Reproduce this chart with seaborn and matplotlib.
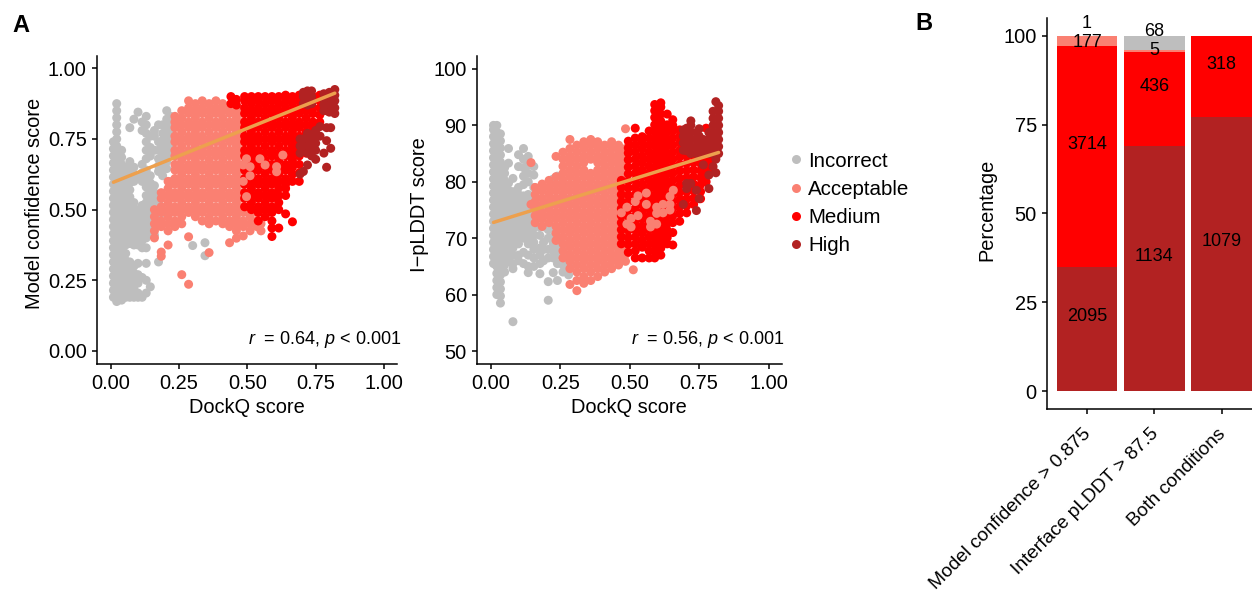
import pandas as pd
import matplotlib.pyplot as plt
import seaborn as sns
from matplotlib.transforms import ScaledTranslation

# DockQ column -> scores
incorrect_a = [
    (.01, [.19,.215,.24,.265,.29,.315,.34,.365,.39,.415,.44,.465,.49,.515,.54,.565,.59,.615,.64,.665,.69,.715,.74]),
    (.022, [.175,.20,.225,.25,.275,.30,.325,.35,.375,.40,.425,.45,.475,.50,.525,.55,.575,.60,.625,.65,.675,.70,.725,.75,.775,.80,.825,.85,.875]),
    (.04, [.18,.21,.235,.26,.285,.31,.335,.36,.385,.41,.435,.46,.485,.51,.535,.56,.585,.61,.635,.66,.685,.71]),
    (.055, [.19,.22,.245,.27,.295,.32,.345,.375,.40,.425,.45,.475,.50,.525,.55,.575,.60,.625,.65]),
    (.07, [.19,.215,.24,.265,.29,.315,.38,.405,.43,.47,.495,.52,.545,.57,.595,.62,.645,.67,.79]),
    (.085, [.19,.22,.25,.275,.30,.375,.40,.425,.45,.475,.50,.525,.60,.625,.65,.82]),
    (.10, [.19,.205,.24,.27,.31,.375,.40,.425,.45,.475,.50,.62,.845]),
    (.115, [.19,.26,.365,.39,.415,.44,.465,.49,.515,.60,.63,.66,.81,.78]),
    (.13, [.205,.25,.31,.365,.40,.425,.45,.475,.50,.525,.55,.58,.61,.64,.83,.80,.77,.74,.71,.68]),
    (.145, [.227,.42,.445,.47,.495,.52,.545,.57,.595,.62,.76,.72,.69]),
    (.16, [.41,.435,.46,.485,.51,.535,.56,.585,.78,.76,.71]),
    (.175, [.315,.45,.475,.50,.525,.55,.80,.74,.71,.68,.655,.635]),
    (.19, [.80,.77,.745,.72,.695,.67,.645,.62,.49]),
    (.205, [.85,.82,.795,.77,.745,.72,.695,.67,.645]),
    (.22, [.83,.80,.775,.75,.725,.70,.60]),
    (.30, [.373]),
    (.345, [.383,.337]),
]
acceptable_a = [
    (.16, [.40,.425,.45,.475,.50]),
    (.185, [.335,.35,.44,.46,.49,.51,.54,.56]),
    (.21, [.375,.425,.45,.475,.50,.525,.55,.575,.60]),
    (.235, [.44,.46,.49,.51,.54,.56,.59,.61,.64,.66,.69,.71,.74,.76,.79,.81,.83]),
    (.26, [.27,.45,.475,.50,.525,.55,.575,.60,.625,.65,.675,.70,.725,.75,.775,.80,.825,.85]),
    (.285, [.236,.404,.49,.51,.54,.56,.59,.61,.64,.66,.69,.71,.74,.76,.79,.81,.84,.86,.885]),
    (.31, [.475,.50,.525,.55,.575,.60,.625,.65,.675,.70,.725,.75,.775,.80,.825,.85,.875]),
    (.335, [.46,.49,.51,.54,.56,.59,.61,.64,.66,.69,.71,.74,.76,.79,.81,.84,.86,.885]),
    (.36, [.348,.45,.475,.50,.525,.55,.575,.60,.625,.65,.675,.70,.725,.75,.775,.80,.825,.85,.875]),
    (.385, [.46,.49,.51,.54,.56,.59,.61,.64,.66,.69,.71,.74,.76,.79,.81,.84,.86,.885]),
    (.41, [.45,.475,.50,.525,.55,.575,.60,.625,.65,.675,.70,.725,.75,.775,.80,.825,.85,.875]),
    (.435, [.383,.44,.46,.49,.51,.54,.56,.59,.61,.64,.66,.69,.71,.74,.76,.79,.81,.84,.86]),
    (.46, [.399,.425,.45,.475,.50,.525,.55,.575,.60,.625,.65,.675,.70,.725,.75,.775,.80,.825,.85]),
    (.485, [.407,.44,.46,.49,.51,.54,.56,.59,.61,.64,.66,.69,.71,.74,.76,.79,.81,.84,.855]),
    (.51, [.425,.45,.475,.50]),
    (.535, [.44,.46,.49]),
    (.55, [.425,.45]),
]
medium_a = [
    (.44, [.875,.90]),
    (.46, [.87,.89]),
    (.49, [.51,.54,.56,.59,.61,.64,.66,.69,.71,.74,.76,.79,.81,.84,.86,.885,.90]),
    (.515, [.50,.525,.55,.575,.60,.625,.65,.675,.70,.725,.75,.775,.80,.825,.85,.875,.90]),
    (.54, [.46,.49,.51,.54,.56,.59,.61,.64,.66,.69,.71,.74,.76,.79,.81,.84,.86,.885,.90]),
    (.565, [.475,.50,.525,.55,.575,.60,.625,.65,.675,.70,.725,.75,.775,.80,.825,.85,.875,.90]),
    (.59, [.405,.435,.46,.49,.51,.54,.56,.59,.61,.64,.66,.69,.71,.74,.76,.79,.81,.84,.86,.885,.90]),
    (.615, [.435,.50,.525,.55,.575,.60,.625,.65,.675,.70,.725,.75,.775,.80,.825,.85,.875,.90]),
    (.64, [.485,.55,.575,.59,.61,.64,.66,.69,.71,.74,.76,.79,.81,.84,.86,.885,.905]),
    (.665, [.457,.60,.625,.65,.675,.70,.725,.75,.775,.80,.825,.85,.875,.90]),
    (.69, [.60,.63,.66,.69,.71,.74,.76,.79,.81,.84,.86,.885,.905]),
    (.715, [.70,.725,.75,.775,.80,.825,.85,.875,.90]),
    (.74, [.76,.79,.81,.84,.86,.885,.90]),
    (.765, [.81,.835,.86,.885,.905]),
    (.79, [.85,.88,.905]),
]
high_a = [
    (.693, [.626,.70,.725,.75]),
    (.705, [.635,.725,.75,.875,.90,.915]),
    (.72, [.658,.70,.725,.75,.77,.87,.895,.92]),
    (.735, [.69,.715,.74,.765,.875,.90,.92]),
    (.75, [.678,.71,.735,.76,.78]),
    (.766, [.794,.76]),
    (.78, [.70,.85,.87,.89,.91]),
    (.79, [.65,.744,.79]),
    (.80, [.845,.87,.895,.915]),
    (.805, [.717,.79]),
    (.82, [.84,.86,.885,.905,.925]),
]
# salmon dots that sit on top of the red block
acceptable_over_a = [
    (.485, [.658,.60]),
    (.497, [.546,.68]),
    (.51, [.62,.652]),
    (.546, [.68]),
    (.565, [.658]),
    (.607, [.652,.634]),
    (.63, [.693]),
]

# same idea for the right panel
incorrect_b = [
    (.01, [65.5,66.75,68,69.25,70.5,71.75,73,74.25,75.5,76.75,78,79.25,80.5,81.75,83,84.25,85.5,86.75,88,89.25,90]),
    (.022, [60,61.25,62.5,63.75,65,66.25,67.5,68.75,70,71.25,72.5,73.75,75,76.25,77.5,78.75,80,81.25,82.5,83.75,85,86.25,87.5,88.75,90]),
    (.035, [58.5,59.75,61,62.25,63.5,64.75,66,67.25,68.5,69.75,71,72.25,73.5,74.75,76,77.25,78.5,79.75,81,82.25,83.5,84.75,86,87.25,88.5]),
    (.05, [64,65.25,66.5,67.75,69,70.25,71.5,72.75,74,75.25,76.5,77.75,79,80.25,81.5,82.5]),
    (.064, [66,67.25,68.5,69.75,71,72.25,73.5,74.75,76,77.25,78.5,79.75,83.3,85.9]),
    (.08, [64.6,65.5,67,68.25,69.5,70.75,72,73.25,74.5,75.75,77,78.25,80.6,55.2]),
    (.10, [66,67,69,70.25,71.5,72.75,74,75.25,76.5,77.75,79,82.7,84.8]),
    (.118, [65.5,67.5,70,71.25,72.5,73.75,75,76.25,77.5,79.5,81,82.5,84,85.9]),
    (.135, [63.9,65,67,69,70.25,71.5,72.75,74,75.25,76.5,77.75,80,81.5,83,84.5]),
    (.155, [65,66.5,68,69.25,70.5,71.75,73,74.25,75.5,77,79,81.2,82.7]),
    (.177, [63.7,65.5,67,68.25,70.5,72,74]),
    (.19, [66,68,69.25,72]),
    (.207, [62.3,66.5,68,70,71.5,59]),
    (.225, [63.9,66.5,67.75,69,70.25,72,80.5]),
    (.24, [62.5,65.5,67,68.25,70,81]),
    (.26, [64,65.25,66.5,67.75,79.5]),
    (.28, [63.5,65]),
]
acceptable_b = [
    (.145, [76,83.4]),
    (.16, [72.75,74,75.25,76.5,77.75,79]),
    (.185, [72.1,73.4,74.6,75.9,77.1,78.4,79.6]),
    (.21, [72.75,74,75.25,76.5,77.75,79,80.25]),
    (.235, [69.6,70.9,72.1,73.4,74.6,75.9,77.1,78.4,79.6,80.9,84.5]),
    (.26, [66.5,67.75,69,70.25,71.5,72.75,74,75.25,76.5,77.75,79,80.25,81.5,82.75,84,85.25]),
    (.285, [61.8,64.6,65.9,67.1,68.4,69.6,70.9,72.1,73.4,74.6,75.9,77.1,78.4,79.6,80.9,82.1,83.4,84.6,85.9,87.5]),
    (.31, [60.7,62.5,64,65.25,66.5,67.75,69,70.25,71.5,72.75,74,75.25,76.5,77.75,79,80.25,81.5,82.75,84,85.25,86.5]),
    (.335, [62,63.2,64.6,65.9,67.1,68.4,69.6,70.9,72.1,73.4,74.6,75.9,77.1,78.4,79.6,80.9,82.1,83.4,84.6,85.9,87.1]),
    (.36, [62.5,64,65.25,66.5,67.75,69,70.25,71.5,72.75,74,75.25,76.5,77.75,79,80.25,81.5,84,85.25,86.5,87.5]),
    (.385, [63.2,64.6,65.9,67.1,68.4,69.6,70.9,72.1,73.4,74.6,75.9,77.1,78.4,79.6,80.9,82.1,83.4,84.6,85.9,87.1]),
    (.41, [64,65.25,66.5,67.75,69,70.25,71.5,72.75,74,75.25,76.5,77.75,79,80.25,81.5,82.75,84,85.25,86.5]),
    (.435, [64.6,65.9,67.1,68.4,69.6,70.9,72.1,73.4,74.6,75.9,77.1,78.4,79.6,80.9,82.1,83.4,84.6,85.9,87.1]),
    (.46, [65.25,66.5,67.75,69,70.25,71.5,72.75,74,75.25,76.5,77.75,79,80.25,81.5,82.75,84,85.25,86.5]),
    (.485, [65.9,67.1,68.4,69.6,70.9,72.1,73.4,74.6,75.9,77.1,78.4,79.6,80.9,82.1,83.4,84.6,85.9,89.4]),
    (.513, [64.4]),
]
medium_b = [
    (.47, [69,70.25,71.5,72.75,74,75.25,76.5,77.75,79,80.25]),
    (.495, [67.5,68.9,70.1,71.4,72.6,73.9,75.1,76.4,77.6,78.9,80.1,81.4,82.6,83.9,85.1,86,87.2]),
    (.52, [66.5,67.75,69,70.25,71.5,72.75,74,75.25,76.5,77.75,79,80.25,81.5,82.75,84,85.25,86.5,87.75,89.5]),
    (.545, [66.5,68.4,69.6,70.9,72.1,73.4,74.6,75.9,77.1,78.4,79.6,80.9,82.1,83.4,84.6,85.9,87.1,88]),
    (.57, [66.5,67.75,69,70.25,71.5,72.75,74,75.25,76.5,77.75,79,80.25,81.5,82.75,84,85.25,86.5,87.75,89]),
    (.59, [66.5,67.7,68.9,70.1,71.4,72.6,73.9,75.1,76.4,77.6,78.9,80.1,81.4,82.6,83.9,85.1,86.4,87.6,88.9,90.1,91.4,92.6,93.7]),
    (.612, [67,68.25,69.5,70.75,72,73.25,74.5,75.75,77,78.25,79.5,80.75,82,83.25,84.5,85.75,87,88.25,89.5,90.75,92,93.25,94]),
    (.635, [69,70.1,71.4,72.6,73.9,75.1,76.4,77.6,78.9,80.1,81.4,82.6,83.9,85.1,86.4,87.6,88.9,90.1,92]),
    (.655, [68.8,71,72.75,74,75.25,76.5,77.75,79,80.25,81.5,82.75,84,85.25,86.5,87.75,89,90,91]),
    (.68, [73,74.4,75.6,76.9,78.1,79.4,80.6,81.9,83.1,84.4,85.6,86.9,88.1,89.2]),
    (.705, [74.5,75.75,77,78.25,79.5,80.75,82,83.25,84.5,85.75,87,88]),
    (.73, [76,77.1,78.4,79.6,80.9,82.1,83.4,84.6]),
    (.755, [77,78.25,79.5,80.75,82,83.25,84.5]),
    (.775, [80,81.25,82.5,83.75,85,89.5]),
    (.795, [82,83.5,84.5]),
]
high_b = [
    (.693, [76,85.6,86.9,88.1,89.2]),
    (.705, [78.8,79.7,85.5,86.75,88,89.5]),
    (.72, [79.7,85,86.25,87.5,88.75,90,90.8]),
    (.74, [74.9,78.5,85,86.25,87.5,88.75]),
    (.75, [77,85.6,86.9,88.1,89.4]),
    (.765, [83,85,86.25,87.5]),
    (.785, [78.8,81.2,85,86.25,87.5,88.75]),
    (.80, [82.7,85,86.25,87.5,88.75,90,91.25,92.5]),
    (.81, [81.6,84,94.2]),
    (.82, [85,86.25,87.5,88.75,90,91.25,92.5,93.5]),
]
acceptable_over_b = [
    (.47, [74.5]),
    (.49, [75.5,72.5]),
    (.505, [73.5,72]),
    (.52, [76.5]),
    (.53, [74,77.5]),
    (.56, [78,76]),
    (.575, [73,72]),
    (.597, [74.4,75.5,72.5]),
    (.62, [74.5,76]),
    (.645, [77.4,76,75]),
    (.657, [78.5]),
]

fit_dockq = [.01, .82]
fit_confidence = [.597, .912]
fit_iplddt = [72.8, 85.2]

classes = ['Incorrect', 'Acceptable', 'Medium', 'High']
colors = ['#BEBEBE', '#FA8072', '#FF0000', '#B22222']
line_color = '#EDA04E'

conditions = ['Model confidence > 0.875', 'Interface pLDDT > 87.5', 'Both conditions']
high_counts = [2095, 1134, 1079]
medium_counts = [3714, 436, 318]
acceptable_counts = [177, 5, 0]
incorrect_counts = [1, 68, 0]

FS = 14.4
W, H = 1252, 596


def make_table(groups, score):
    rows = []
    for label, columns in groups:
        for dockq, values in columns:
            for v in values:
                rows.append({'dockq': dockq, score: v, 'cls': label})
    return pd.DataFrame(rows)


def add_axes(fig, left, right, top, bottom):
    return fig.add_axes([left / W, 1 - bottom / H, (right - left) / W, (bottom - top) / H])


def scatter_panel(ax, df, score, fit_y, note, note_x, legend):
    sns.scatterplot(data=df, x='dockq', y=score, hue='cls', hue_order=classes,
                    palette=colors, s=42, linewidth=0, ax=ax, legend=legend)
    sns.lineplot(x=fit_dockq, y=fit_y, color=line_color, linewidth=2.5, ax=ax)
    ax.set_xticks([0, .25, .5, .75, 1])
    ax.set_xticklabels(['0.00', '0.25', '0.50', '0.75', '1.00'])
    ax.set_xlabel('DockQ score', fontsize=FS, labelpad=4)
    ax.text(note_x, 0.078, note, transform=ax.transAxes, ha='right', va='center', fontsize=13)


def main():
    sns.set_theme(style='ticks', rc={'text.color': 'black', 'axes.labelcolor': 'black',
                                     'xtick.color': 'black', 'ytick.color': 'black'})
    plt.rcParams['font.family'] = ['Liberation Sans', 'DejaVu Sans']
    plt.rcParams['mathtext.fontset'] = 'custom'
    plt.rcParams['mathtext.it'] = 'Liberation Sans:italic'
    plt.rcParams['mathtext.rm'] = 'Liberation Sans'
    plt.rcParams['axes.linewidth'] = 1.1
    plt.rcParams['xtick.major.width'] = 1.1
    plt.rcParams['ytick.major.width'] = 1.1
    plt.rcParams['xtick.major.size'] = 3.6
    plt.rcParams['ytick.major.size'] = 3.6
    plt.rcParams['xtick.labelsize'] = FS
    plt.rcParams['ytick.labelsize'] = FS
    plt.rcParams['axes.edgecolor'] = 'black'

    fig = plt.figure(figsize=(W / 100, H / 100), dpi=100)

    # left scatter
    ax1 = add_axes(fig, 96.7, 397, 56, 364)
    df_a = make_table([('Incorrect', incorrect_a), ('Acceptable', acceptable_a), ('Medium', medium_a),
                       ('High', high_a), ('Acceptable', acceptable_over_a)], 'score')
    scatter_panel(ax1, df_a, 'score', fit_confidence, r'$r$  = 0.64, $p$ < 0.001', 1.013, False)
    ax1.set_xlim(-.0512, 1.0476)
    ax1.set_ylim(-.046, 1.0435)
    ax1.set_yticks([0, .25, .5, .75, 1])
    ax1.set_yticklabels(['0.00', '0.25', '0.50', '0.75', '1.00'])
    ax1.set_ylabel('Model confidence score', fontsize=FS, labelpad=3, y=.52)

    # right scatter, carries the legend
    ax2 = add_axes(fig, 476.7, 782, 56, 364)
    df_b = make_table([('Incorrect', incorrect_b), ('Acceptable', acceptable_b), ('Medium', medium_b),
                       ('High', high_b), ('Acceptable', acceptable_over_b)], 'score')
    scatter_panel(ax2, df_b, 'score', fit_iplddt, r'$r$  = 0.56, $p$ < 0.001', 1.0066, 'auto')
    ax2.set_xlim(-.0504, 1.048)
    ax2.set_ylim(47.7, 102.3)
    ax2.set_yticks([50, 60, 70, 80, 90, 100])
    ax2.set_ylabel('I\u2212pLDDT score', fontsize=FS, labelpad=3, y=.517)
    sns.move_legend(ax2, 'center left', bbox_to_anchor=(1.026, .521), frameon=False, title=None,
                    fontsize=14.8, labelspacing=.45, handlelength=.6, handletextpad=.3,
                    borderpad=0, borderaxespad=0)

    # stacked percentages
    ax3 = add_axes(fig, 1046.7, 1252, 18, 409.3)
    stack = [high_counts, medium_counts, acceptable_counts, incorrect_counts]
    stack_colors = ['#B22222', '#FF0000', '#FA8072', '#BEBEBE']
    totals = [sum(c[i] for c in stack) for i in range(3)]
    tops = []
    running = [0, 0, 0]
    for counts in stack:
        running = [r + 100 * n / t for r, n, t in zip(running, counts, totals)]
        tops.append(running)
    for top, color in zip(reversed(tops), reversed(stack_colors)):
        sns.barplot(x=conditions, y=top, color=color, saturation=1, width=.9, order=conditions,
                    linewidth=0, ax=ax3)

    label_nudge = {177: -.5, 5: .2}
    for i in range(3):
        base = 0
        for counts, top in zip(stack, tops):
            if counts[i] > 0:
                mid = (base + top[i]) / 2
                ax3.text(i, mid + label_nudge.get(counts[i], 3.4), str(counts[i]),
                         ha='center', va='center', fontsize=13, color='black')
            base = top[i]
    ax3.set_xlim(-.6, 2.45)
    ax3.set_ylim(-5.15, 105)
    ax3.set_yticks([0, 25, 50, 75, 100])
    ax3.set_ylabel('Percentage', fontsize=FS, labelpad=5, y=.51)
    ax3.set_xlabel('')
    ax3.set_xticks([0, 1, 2])
    ax3.set_xticklabels(conditions, rotation=45, ha='right', rotation_mode='anchor', fontsize=13.8)
    ax3.tick_params(axis='x', pad=8)
    shift = ScaledTranslation(-5 / 100, 0, fig.dpi_scale_trans)
    for label in ax3.get_xticklabels():
        label.set_transform(label.get_transform() + shift)

    sns.despine(fig=fig)
    fig.text(12 / W, 1 - 25 / H, 'A', fontsize=17, fontweight='bold', va='center')
    fig.text(915 / W, 1 - 23 / H, 'B', fontsize=17, fontweight='bold', va='center')
    fig.savefig('out.png', dpi=100)


if __name__ == "__main__":
    main()
